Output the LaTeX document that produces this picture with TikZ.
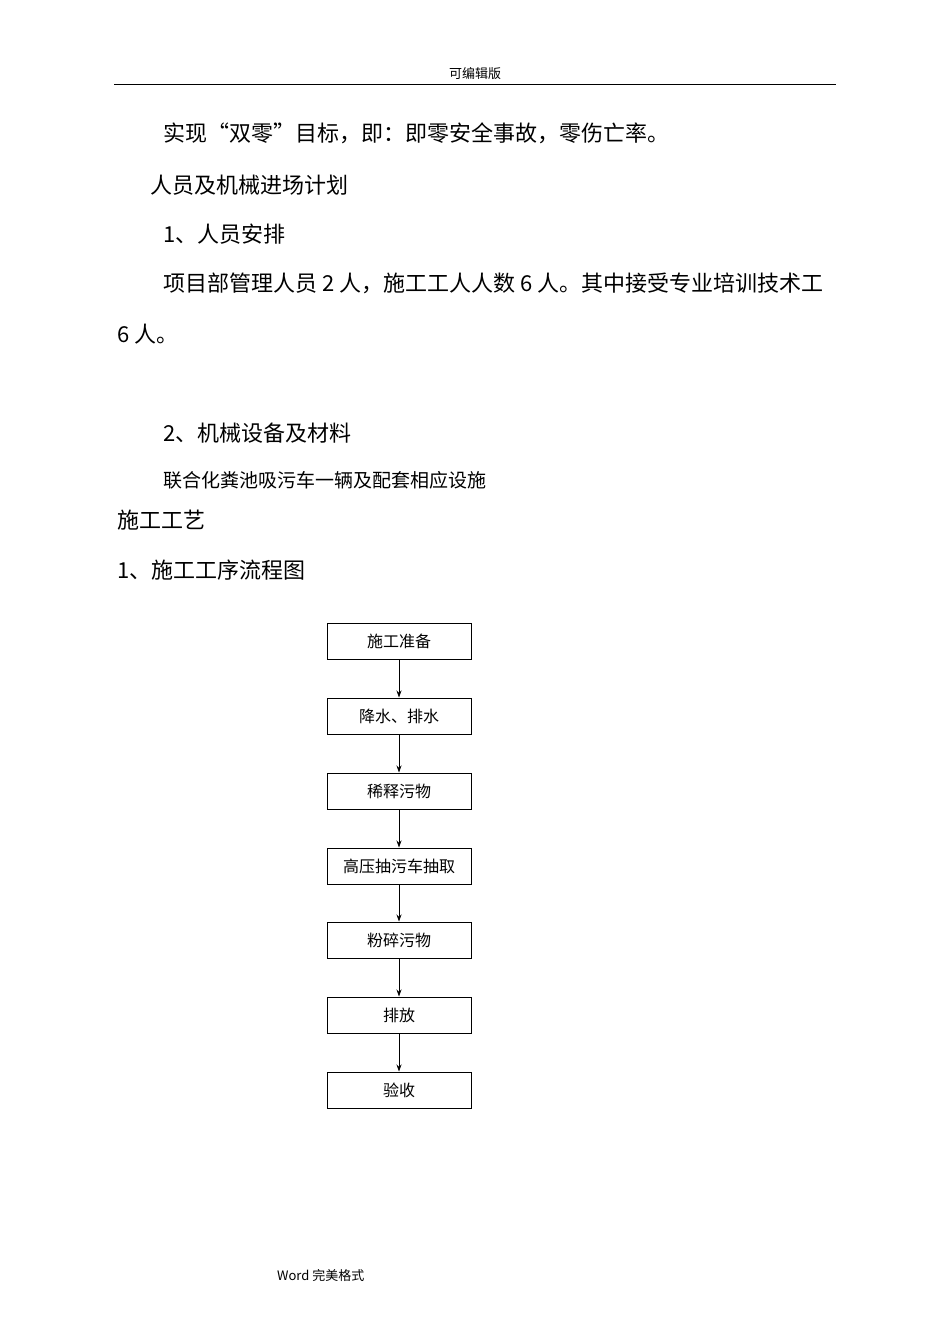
\documentclass[tikz,border=0pt]{standalone}
\usepackage{fontspec}
\setmainfont{Liberation Serif}
\newfontfamily\cjk{Noto Sans CJK SC}
\usetikzlibrary{arrows.meta}
\begin{document}
\begin{tikzpicture}[x=1pt,y=-1pt,
  body/.style={anchor=west,inner sep=0pt,font=\cjk\fontsize{22}{22}\selectfont},
  stepbox/.style={draw,line width=1pt,minimum width=144pt,minimum height=36pt,inner sep=0pt,font=\cjk\fontsize{16}{16}\selectfont},
  arr/.style={-{Stealth[length=7pt,width=5pt]},line width=0.8pt}]
\useasboundingbox[fill=white] (0,0) rectangle (950,1344);
\node[font=\cjk\fontsize{13}{13}\selectfont] (hdr) at (475,74) {可编辑版};
\draw[line width=1pt] (114,84) -- (836,84);
\node[body] (t1) at (163,133) {实现“双零”目标，即：即零安全事故，零伤亡率。};
\node[body] (t2) at (150,185) {人员及机械进场计划};
\node[body] (t3) at (163,234) {1、人员安排};
\node[body] (t4) at (163,283) {项目部管理人员 2 人，施工工人人数 6 人。其中接受专业培训技术工};
\node[body] (t5) at (117,334) {6 人。};
\node[body] (t6) at (163,433) {2、机械设备及材料};
\node[body,font=\cjk\fontsize{19}{19}\selectfont] (t7) at (163,480) {联合化粪池吸污车一辆及配套相应设施};
\node[body] (t8) at (117,520) {施工工艺};
\node[body] (t9) at (117,570) {1、施工工序流程图};
\node[stepbox] (b1) at (399,641) {施工准备};
\node[stepbox] (b2) at (399,716) {降水、排水};
\node[stepbox] (b3) at (399,791) {稀释污物};
\node[stepbox] (b4) at (399,866) {高压抽污车抽取};
\node[stepbox] (b5) at (399,940) {粉碎污物};
\node[stepbox] (b6) at (399,1015) {排放};
\node[stepbox] (b7) at (399,1090) {验收};
\foreach \a/\b in {b1/b2,b2/b3,b3/b4,b4/b5,b5/b6,b6/b7} \draw[arr] (\a) -- (\b);
\node[anchor=west,inner sep=0pt,font=\cjk\fontsize{13}{13}\selectfont] (ftr) at (277,1275) {Word 完美格式};
\end{tikzpicture}
\end{document}
